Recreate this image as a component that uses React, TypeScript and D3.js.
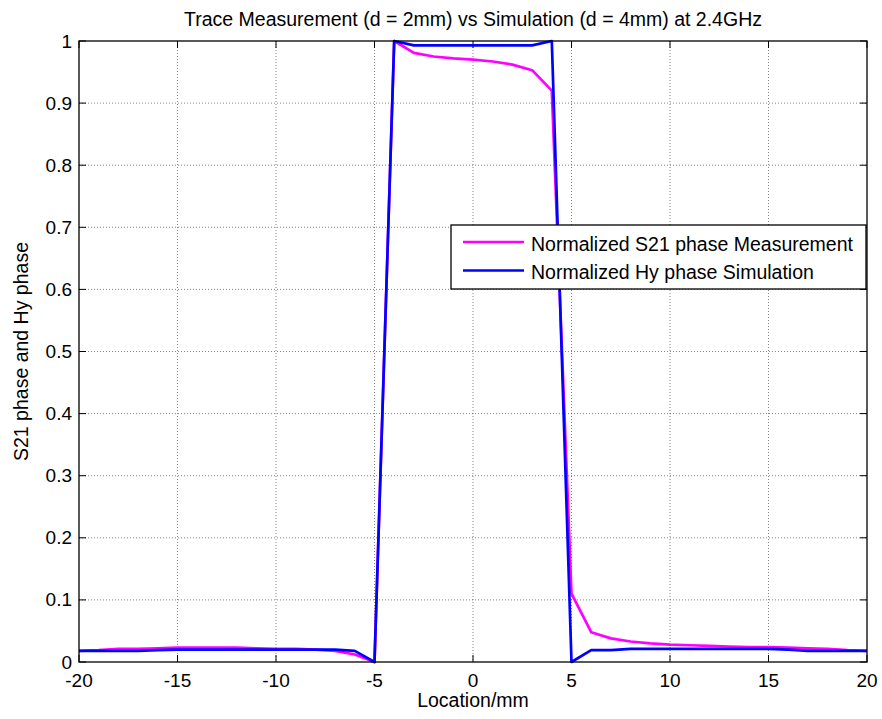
import React from "react";
import * as d3 from "d3";

const locations = d3.range(-20, 21);
const measurement = [
  0.018, 0.019, 0.021, 0.021, 0.022, 0.023, 0.023, 0.023, 0.023, 0.022, 0.021,
  0.021, 0.02, 0.018, 0.012, 0.0,
  1.0, 0.981, 0.975, 0.972, 0.97, 0.967, 0.962, 0.953, 0.92,
  0.11, 0.048, 0.038, 0.033, 0.03, 0.028, 0.027, 0.026, 0.025, 0.024, 0.024,
  0.023, 0.022, 0.021, 0.019, 0.018,
];
const simulation = [
  0.018, 0.018, 0.018, 0.018, 0.019, 0.02, 0.02, 0.02, 0.02, 0.02, 0.02,
  0.02, 0.02, 0.02, 0.018, 0.0,
  1.0, 0.993, 0.993, 0.993, 0.993, 0.993, 0.993, 0.993, 1.0,
  0.0, 0.019, 0.019, 0.021, 0.021, 0.021, 0.021, 0.021, 0.021, 0.021, 0.021,
  0.02, 0.018, 0.018, 0.018, 0.018,
];
const xTicks = [-20, -15, -10, -5, 0, 5, 10, 15, 20];
const yTicks = [0, 0.1, 0.2, 0.3, 0.4, 0.5, 0.6, 0.7, 0.8, 0.9, 1];
const seriesNames = ["Normalized S21 phase Measurement", "Normalized Hy phase Simulation"];
const colors = ["#ff00ff", "#0000ff"];
const title = "Trace Measurement (d = 2mm) vs Simulation (d = 4mm) at 2.4GHz";

export default function App() {
  const W = 882, H = 719;
  const L = 79, R = 867, T = 41, B = 662;
  const x = d3.scaleLinear().domain([-20, 20]).range([L, R]);
  const y = d3.scaleLinear().domain([0, 1]).range([B, T]);
  const line = d3.line<number>().x((_, i) => x(locations[i])).y((d) => y(d));
  const font = "Liberation Sans, Arial, sans-serif";
  const fs = 19.5;
  const tfs = 19;
  const tk = 7;
  return (
    <div style={{ position: "absolute", left: 0, top: 0 }}>
      <svg width={W} height={H} style={{ display: "block", background: "#fff" }}>
        <rect x={0} y={0} width={W} height={H} fill="#fff" />
        {/* grid */}
        {xTicks.slice(1, -1).map((t) => (
          <line key={"gx" + t} x1={x(t)} x2={x(t)} y1={T} y2={B} stroke="#333" strokeWidth={0.6} strokeDasharray="1,2" />
        ))}
        {yTicks.slice(1, -1).map((t) => (
          <line key={"gy" + t} x1={L} x2={R} y1={y(t)} y2={y(t)} stroke="#333" strokeWidth={0.6} strokeDasharray="1,2" />
        ))}
        {/* ticks */}
        {xTicks.map((t) => (
          <g key={"tx" + t}>
            <line x1={x(t)} x2={x(t)} y1={B} y2={B - tk} stroke="#000" />
            <line x1={x(t)} x2={x(t)} y1={T} y2={T + tk} stroke="#000" />
            <text x={x(t)} y={687} fontSize={tfs} fontFamily={font} textAnchor="middle">{t}</text>
          </g>
        ))}
        {yTicks.map((t) => (
          <g key={"ty" + t}>
            <line x1={L} x2={L + tk} y1={y(t)} y2={y(t)} stroke="#000" />
            <line x1={R} x2={R - tk} y1={y(t)} y2={y(t)} stroke="#000" />
            <text x={L - 7} y={y(t) + 6.5} fontSize={tfs} fontFamily={font} textAnchor="end">{d3.format("~g")(t)}</text>
          </g>
        ))}
        {/* lines */}
        <path d={line(measurement) || ""} fill="none" stroke={colors[0]} strokeWidth={2.7} strokeLinejoin="round" />
        <path d={line(simulation) || ""} fill="none" stroke={colors[1]} strokeWidth={2.7} strokeLinejoin="round" />
        {/* frame */}
        <rect x={L} y={T} width={R - L} height={B - T} fill="none" stroke="#000" strokeWidth={1.3} />
        {/* legend */}
        <rect x={451} y={225} width={415} height={64} fill="#fff" stroke="#000" strokeWidth={1.3} />
        {seriesNames.map((n, i) => (
          <g key={n}>
            <line x1={463} x2={524} y1={242 + i * 28.5} y2={242 + i * 28.5} stroke={colors[i]} strokeWidth={2.7} />
            <text x={531} y={251 + i * 28} fontSize={fs} fontFamily={font}>{n}</text>
          </g>
        ))}
        {/* labels */}
        <text x={(L + R) / 2} y={26} fontSize={fs} fontFamily={font} textAnchor="middle">{title}</text>
        <text x={(L + R) / 2} y={707} fontSize={fs} fontFamily={font} textAnchor="middle">Location/mm</text>
        <text transform={`translate(28,${(T + B) / 2}) rotate(-90)`} fontSize={fs} fontFamily={font} textAnchor="middle">S21 phase and Hy phase</text>
      </svg>
    </div>
  );
}
